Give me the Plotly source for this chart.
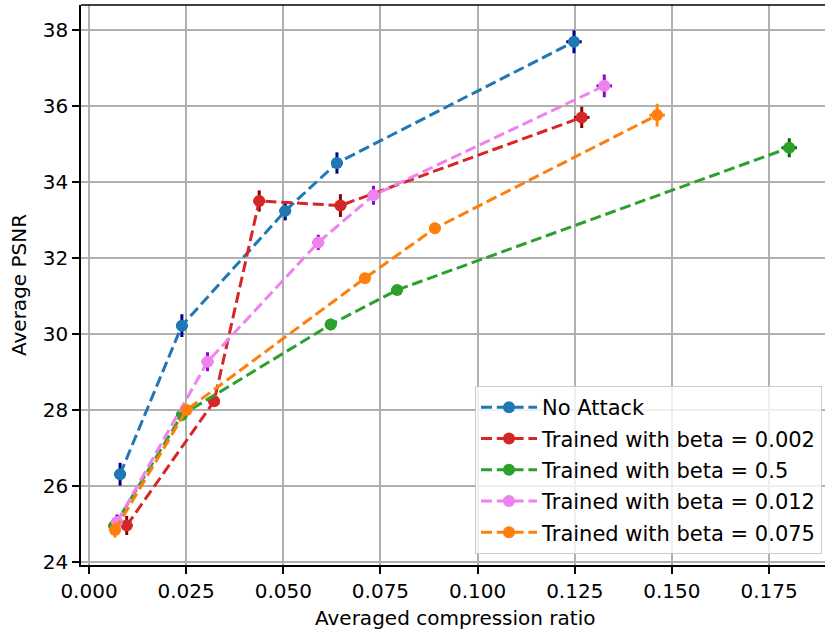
import plotly.graph_objects as go

series_names = ["No Attack", "Trained with beta = 0.002", "Trained with beta = 0.5",
                "Trained with beta = 0.012", "Trained with beta = 0.075"]

no_attack_x = [0.0080, 0.0239, 0.0505, 0.0638, 0.1248]
no_attack_y = [26.31, 30.22, 33.24, 34.50, 37.69]
no_attack_yerr = [0.30, 0.30, 0.25, 0.28, 0.30]

beta002_x = [0.0097, 0.0322, 0.0438, 0.0647, 0.1268]
beta002_y = [24.96, 28.23, 33.50, 33.38, 35.70]
beta002_yerr = [0.25, 0.05, 0.28, 0.30, 0.28]

beta05_x = [0.0065, 0.0239, 0.0622, 0.0793, 0.1802]
beta05_y = [24.95, 27.87, 30.25, 31.16, 34.90]
beta05_yerr = [0.20, 0.15, 0.15, 0.10, 0.25]

beta012_x = [0.0072, 0.0305, 0.0590, 0.0732, 0.1326]
beta012_y = [25.05, 29.27, 32.41, 33.65, 36.53]
beta012_yerr = [0.20, 0.25, 0.20, 0.25, 0.30]

beta075_x = [0.0067, 0.0251, 0.0710, 0.0890, 0.1462]
beta075_y = [24.84, 28.00, 31.47, 32.78, 35.76]
beta075_yerr = [0.20, 0.12, 0.12, 0.15, 0.30]

xerr_all = [0.0015, 0.0015, 0.0015, 0.0015, 0.0020]

x_ticks = [0.0, 0.025, 0.05, 0.075, 0.1, 0.125, 0.15, 0.175]
x_tick_labels = ["0.000", "0.025", "0.050", "0.075", "0.100", "0.125", "0.150", "0.175"]
y_ticks = [24, 26, 28, 30, 32, 34, 36, 38]

colors = ["#1f77b4", "#d62728", "#2ca02c", "violet", "#ff7f0e"]
ecolors = ["darkblue", "darkred", "darkgreen", "darkviolet", "darkorange"]

data = [
    (no_attack_x, no_attack_y, no_attack_yerr),
    (beta002_x, beta002_y, beta002_yerr),
    (beta05_x, beta05_y, beta05_yerr),
    (beta012_x, beta012_y, beta012_yerr),
    (beta075_x, beta075_y, beta075_yerr),
]

FONT = "DejaVu Sans"
W, H = 825, 630
ML, MR, MT, MB = 81, 0, 5, 65
PW = W - ML - MR
PH = H - MT - MB

fig = go.Figure()
for i, (name, (xs, ys, ye), c, ec) in enumerate(zip(series_names, data, colors, ecolors)):
    fig.add_trace(go.Scatter(
        x=xs, y=ys, name=name, mode="lines+markers", legendgroup=f"g{i}",
        line=dict(color=c, width=3, dash="11px,4.8px"),
        marker=dict(color=c, size=12, line=dict(width=0)),
        error_y=dict(type="data", array=ye, color=ec, thickness=3, width=0),
        error_x=dict(type="data", array=xerr_all, color=ec, thickness=3, width=0),
    ))

fig.update_layout(
    width=W, height=H,
    margin=dict(l=ML, r=MR, t=MT, b=MB, autoexpand=False),
    plot_bgcolor="white", paper_bgcolor="white",
    font=dict(family=FONT, size=20, color="black"),
    showlegend=True,
    legend=dict(
        x=(822 - ML) / PW, y=(565 - 554) / PH, xanchor="right", yanchor="bottom",
        bgcolor="rgba(255,255,255,0.8)", bordercolor="#cccccc", borderwidth=1,
        font=dict(family=FONT, size=21, color="black"),
        tracegroupgap=1, itemwidth=56,
    ),
    shapes=[dict(type="line", xref="paper", yref="paper", x0=0, x1=1, y0=1, y1=1,
                 line=dict(color="black", width=1.6))],
    annotations=[
        dict(text="Averaged compression ratio", xref="paper", yref="paper",
             x=(455 - ML) / PW, y=-(618 - (MT + PH)) / PH, xanchor="center", yanchor="middle",
             showarrow=False, font=dict(family=FONT, size=20, color="black")),
        dict(text="Average PSNR", xref="paper", yref="paper",
             x=(19 - ML) / PW, y=(565 - 285) / PH, xanchor="center", yanchor="middle",
             textangle=-90, showarrow=False, font=dict(family=FONT, size=20, color="black")),
    ],
)
fig.update_xaxes(
    range=[-0.00206, 0.1894], tickvals=x_ticks, ticktext=x_tick_labels,
    showgrid=True, gridcolor="#b0b0b0", gridwidth=1.6,
    showline=True, linecolor="black", linewidth=1.6,
    ticks="outside", ticklen=7, tickwidth=1.6, tickcolor="black",
    zeroline=False, automargin=False,
)
fig.update_yaxes(
    range=[23.921, 38.658], tickvals=y_ticks,
    showgrid=True, gridcolor="#b0b0b0", gridwidth=1.6,
    showline=True, linecolor="black", linewidth=1.6,
    ticks="outside", ticklen=7, tickwidth=1.6, tickcolor="black",
    zeroline=False, automargin=False,
)

fig.write_html("out.html", config={"displayModeBar": False},
               post_script="document.body.style.margin='0';")
